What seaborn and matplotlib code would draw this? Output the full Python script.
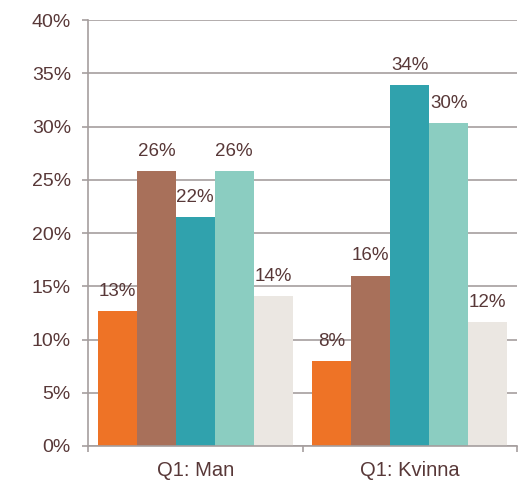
import matplotlib
matplotlib.use("Agg")
import matplotlib.pyplot as plt
import seaborn as sns
import pandas as pd
from matplotlib.ticker import FixedLocator

# Values (percent)
groups = ["Q1: Man", "Q1: Kvinna"]
answers = ["Svar 1", "Svar 2", "Svar 3", "Svar 4", "Svar 5"]
man_values = [12.7, 25.8, 21.5, 25.8, 14.1]
kvinna_values = [8.0, 16.0, 33.9, 30.3, 11.6]
y_ticks = [0, 5, 10, 15, 20, 25, 30, 35, 40]

palette = ["#ee7326", "#a8705a", "#30a2ad", "#8bcdc1", "#ebe7e2"]
text_color = "#583838"
grid_color = "#a59e9e"

df = pd.DataFrame({
    "group": [g for g, vals in zip(groups, [man_values, kvinna_values]) for _ in vals],
    "answer": answers * 2,
    "value": man_values + kvinna_values,
})

sns.set_theme(style="white")
plt.rcParams["font.family"] = ["Liberation Sans", "DejaVu Sans"]

fig = plt.figure(figsize=(5.31, 4.82), dpi=100)
ax = fig.add_axes([88 / 531, 36 / 482, 429 / 531, 426 / 482])

sns.barplot(data=df, x="group", y="value", hue="answer", order=groups,
            hue_order=answers, palette=palette, width=0.907, gap=0,
            linewidth=0, saturation=1, legend=False, ax=ax)

for cont in ax.containers:
    ax.bar_label(cont, labels=[f"{round(b.get_height()):d}%" for b in cont],
                 padding=8, fontsize=13.5, color=text_color)

ax.set_xlim(-0.5, 1.5)
ax.set_ylim(0, 40)
ax.set_yticks(y_ticks)
ax.set_yticklabels([f"{t}%" for t in y_ticks])
ax.yaxis.grid(True, color=grid_color, linewidth=1.2)
ax.set_axisbelow(True)
ax.set_xlabel("")
ax.set_ylabel("")

for side in ["top", "right"]:
    ax.spines[side].set_visible(False)
for side in ["left", "bottom"]:
    ax.spines[side].set_color(grid_color)
    ax.spines[side].set_linewidth(1.2)

ax.tick_params(axis="y", length=4.3, width=1.2, color=grid_color, pad=8,
               labelsize=14, labelcolor=text_color, left=True)
ax.tick_params(axis="x", which="major", length=0, pad=11,
               labelsize=14.5, labelcolor=text_color)
ax.xaxis.set_minor_locator(FixedLocator([-0.5, 0.5, 1.5]))
ax.tick_params(axis="x", which="minor", length=4.3, width=1.2,
               color=grid_color, bottom=True)

fig.savefig("out.png", dpi=100)
